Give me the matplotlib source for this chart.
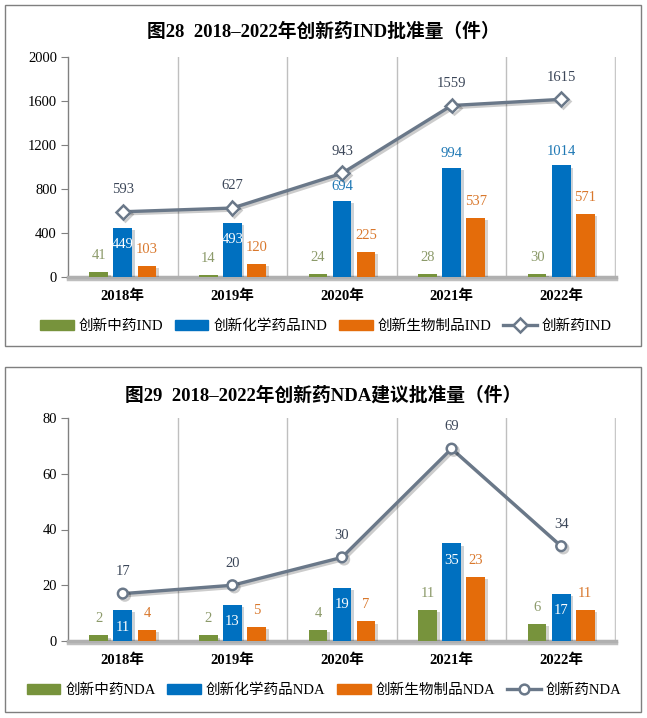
import numpy as np
import matplotlib
matplotlib.use("Agg")
import matplotlib.pyplot as plt
import matplotlib.patches as patches
import matplotlib.patheffects as pe
from matplotlib.lines import Line2D

plt.rcParams["font.family"] = ["Liberation Serif", "Noto Sans CJK SC"]

years = ["2018年", "2019年", "2020年", "2021年", "2022年"]

# 图28 IND
ind_tcm = [41, 14, 24, 28, 30]
ind_chem = [449, 493, 694, 994, 1014]
ind_bio = [103, 120, 225, 537, 571]
ind_total = [593, 627, 943, 1559, 1615]
ind_names = ["创新中药IND", "创新化学药品IND", "创新生物制品IND", "创新药IND"]
ind_title = "图28  2018–2022年创新药IND批准量（件）"
ind_ticks = [0, 400, 800, 1200, 1600, 2000]

# 图29 NDA
nda_tcm = [2, 2, 4, 11, 6]
nda_chem = [11, 13, 19, 35, 17]
nda_bio = [4, 5, 7, 23, 11]
nda_total = [17, 20, 30, 69, 34]
nda_names = ["创新中药NDA", "创新化学药品NDA", "创新生物制品NDA", "创新药NDA"]
nda_title = "图29  2018–2022年创新药NDA建议批准量（件）"
nda_ticks = [0, 20, 40, 60, 80]

GREEN = "#77933c"
BLUE = "#0070c0"
ORANGE = "#e46c0a"
LINE = "#6a7889"
GREEN_TXT = "#8c9a6a"
ORANGE_TXT = "#d9782d"
BLUE_TXT = "#1f78b4"
LINE_TXT = "#3b4658"

W, H = 647, 718
fig = plt.figure(figsize=(W / 100, H / 100), dpi=100)


def fx(px):
    return px / W


def fy(py):
    return 1 - py / H


def panel(top, bottom):
    fig.patches.append(patches.Rectangle((fx(5), fy(bottom)), fx(636), (bottom - top) / H,
                                         transform=fig.transFigure, fill=False,
                                         edgecolor="#7f7f7f", linewidth=1.0))


def draw(ax_top, ax_bot, tcm, chem, bio, total, ticks, names, marker, chem_inside):
    ax = fig.add_axes([fx(68), fy(ax_bot), fx(548), (ax_bot - ax_top) / H])
    x = np.arange(len(years))
    w = 0.17
    off = 0.22
    shadow = [pe.SimplePatchShadow(offset=(2, -1.5), alpha=0.2), pe.Normal()]
    b1 = ax.bar(x - off, tcm, w, color=GREEN, zorder=3)
    b2 = ax.bar(x, chem, w, color=BLUE, zorder=3)
    b3 = ax.bar(x + off, bio, w, color=ORANGE, zorder=3)
    for bars in (b1, b2, b3):
        for b in bars:
            b.set_path_effects(shadow)
    ax.plot(x, total, color=LINE, linewidth=2.4, marker=marker, markersize=7,
            markerfacecolor="white", markeredgecolor=LINE, markeredgewidth=1.8, zorder=5,
            path_effects=[pe.SimpleLineShadow(offset=(1.5, -1.5), alpha=0.2), pe.Normal()])

    fs = 10.5
    for i in x:
        ax.annotate(str(tcm[i]), (i - off, tcm[i]), xytext=(0, 12), textcoords="offset points",
                    ha="center", va="center", color=GREEN_TXT, fontsize=fs, zorder=6)
        ax.annotate(str(bio[i]), (i + off, bio[i]), xytext=(0, 12), textcoords="offset points",
                    ha="center", va="center", color=ORANGE_TXT, fontsize=fs, zorder=6)
        if chem_inside[i]:
            ax.annotate(str(chem[i]), (i, chem[i]), xytext=(0, -12), textcoords="offset points",
                        ha="center", va="center", color="white", fontsize=fs, zorder=6)
        else:
            ax.annotate(str(chem[i]), (i, chem[i]), xytext=(0, 10), textcoords="offset points",
                        ha="center", va="center", color=BLUE_TXT, fontsize=fs, zorder=6)
        ax.annotate(str(total[i]), (i, total[i]), xytext=(0, 16), textcoords="offset points",
                    ha="center", va="center", color=LINE_TXT, fontsize=fs, zorder=6)

    for d in x[:-1] + 0.5:
        ax.axvline(d, color="#bfbfbf", linewidth=1.0, zorder=1)
    ax.axvline(4.5, color="#c8c8c8", linewidth=2.5, zorder=1,
               path_effects=[pe.SimpleLineShadow(offset=(2, -1), alpha=0.25), pe.Normal()])

    ax.set_xlim(-0.5, 4.5)
    ax.set_ylim(ticks[0], ticks[-1])
    ax.set_yticks(ticks)
    ax.set_xticks(x)
    ax.set_xticklabels(years, fontweight="bold", fontsize=10.5)
    ax.tick_params(axis="x", length=0, pad=9)
    ax.tick_params(axis="y", direction="out", length=5, color="#808080", labelsize=10.5, pad=3)
    for s in ("top", "right"):
        ax.spines[s].set_visible(False)
    ax.spines["left"].set_color("#808080")
    ax.spines["left"].set_linewidth(1.0)
    ax.spines["bottom"].set_color("#b0b0b0")
    ax.spines["bottom"].set_linewidth(2.5)
    ax.spines["bottom"].set_path_effects([pe.SimpleLineShadow(offset=(0, -1.5), alpha=0.25), pe.Normal()])
    ax.set_facecolor("none")

    handles = [patches.Patch(color=GREEN), patches.Patch(color=BLUE), patches.Patch(color=ORANGE),
               Line2D([], [], color=LINE, linewidth=2.4, marker=marker, markersize=7,
                      markerfacecolor="white", markeredgecolor=LINE, markeredgewidth=1.8)]
    return ax, handles


leg_kw = dict(loc="center", ncol=4, frameon=False, fontsize=10.5, handlelength=2.3,
              handleheight=0.7, columnspacing=0.8, handletextpad=0.35)

# panel 1
panel(5, 346)
fig.text(0.5, fy(32), ind_title, ha="center", va="center", fontsize=13.5, fontweight="bold")
ax1, h1 = draw(57, 277, ind_tcm, ind_chem, ind_bio, ind_total, ind_ticks, ind_names, "D",
               [True, True, False, False, False])
fig.legend(h1, ind_names, bbox_to_anchor=(fx(326), fy(326)), **leg_kw)

# panel 2
panel(367, 712)
fig.text(0.5, fy(395), nda_title, ha="center", va="center", fontsize=13.5, fontweight="bold")
ax2, h2 = draw(418, 641, nda_tcm, nda_chem, nda_bio, nda_total, nda_ticks, nda_names, "o",
               [True, True, True, True, True])
fig.legend(h2, nda_names, bbox_to_anchor=(fx(324), fy(690)), **leg_kw)

fig.savefig("out.png", dpi=100)
